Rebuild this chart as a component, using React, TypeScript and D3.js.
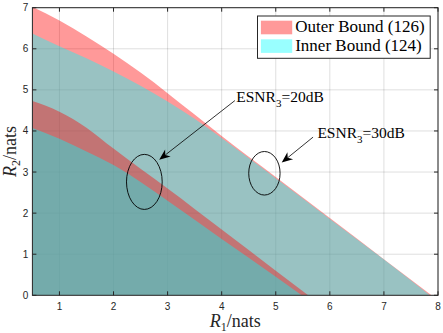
import React from 'react';
import * as d3 from 'd3';

// R1 / R2 region boundaries (nats)
const r1Outer30 = [0.5, 1, 1.5, 2, 2.5, 3, 3.5, 4, 5, 6, 7, 7.88];
const r2Outer30 = [7.02, 6.69, 6.3, 5.88, 5.42, 4.92, 4.4, 3.88, 2.88, 1.88, 0.88, 0];
const r1Inner30 = [0.5, 1, 1.5, 2, 2.5, 3, 3.5, 4, 5, 6, 7, 7.85];
const r2Inner30 = [6.37, 6.06, 5.77, 5.45, 5.1, 4.72, 4.3, 3.83, 2.85, 1.86, 0.87, 0];
const r1Outer20 = [0.5, 1, 1.5, 2, 2.5, 3, 4, 5, 5.6];
const r2Outer20 = [4.73, 4.47, 4.08, 3.57, 3.08, 2.6, 1.6, 0.6, 0];
const r1Inner20 = [0.5, 1, 1.5, 2, 2.5, 3, 4, 5, 5.48];
const r2Inner20 = [4.07, 3.81, 3.5, 3.17, 2.76, 2.3, 1.37, 0.45, 0];

const xTicks = [1, 2, 3, 4, 5, 6, 7, 8];
const yTicks = [0, 1, 2, 3, 4, 5, 6, 7];
const legendLabels = ['Outer Bound (126)', 'Inner Bound (124)'];

// annotations: ellipse centre / radii and arrow (data units)
const ellipse20 = { cx: 2.57, cy: 2.76, rx: 0.33, ry: 0.67 };
const ellipse30 = { cx: 4.79, cy: 2.97, rx: 0.29, ry: 0.53 };
const arrow20 = { x0: 4.245, y0: 4.74, x1: 2.845, y1: 3.3 };
const arrow30 = { x0: 5.69, y0: 3.85, x1: 5.11, y1: 3.23 };
const label20 = { x: 4.27, y: 4.7, sub: '3', rest: '=20dB' };
const label30 = { x: 5.77, y: 3.83, sub: '3', rest: '=30dB' };

const W = 443;
const H = 333;
const margin = { top: 7.7, right: 5, bottom: 37.7, left: 32.4 };
const serif = '"Liberation Serif", "Times New Roman", serif';
const sans = '"Liberation Sans", Arial, sans-serif';
const axisColor = '#262626';

const x = d3.scaleLinear().domain([0.5, 8]).range([margin.left, W - margin.right]);
const y = d3.scaleLinear().domain([0, 7]).range([H - margin.bottom, margin.top]);

const area = d3
  .area<[number, number]>()
  .x(d => x(d[0]))
  .y0(() => y(0))
  .y1(d => y(d[1]))
  .curve(d3.curveMonotoneX);

const zip = (a: number[], b: number[]) => a.map((v, i) => [v, b[i]] as [number, number]);

function Arrow({ a }: { a: { x0: number; y0: number; x1: number; y1: number } }) {
  const sx = x(a.x0), sy = y(a.y0), tx = x(a.x1), ty = y(a.y1);
  const ang = Math.atan2(ty - sy, tx - sx);
  const len = 11, half = 4.5;
  const bx = tx - len * Math.cos(ang), by = ty - len * Math.sin(ang);
  const nx = -Math.sin(ang), ny = Math.cos(ang);
  const notchX = tx - len * 0.7 * Math.cos(ang), notchY = ty - len * 0.7 * Math.sin(ang);
  const head = `M${tx},${ty}L${bx + nx * half},${by + ny * half}L${notchX},${notchY}L${bx - nx * half},${by - ny * half}Z`;
  return (
    <g>
      <line x1={sx} y1={sy} x2={notchX} y2={notchY} stroke="#000" strokeWidth={0.8} />
      <path d={head} fill="#000" />
    </g>
  );
}

function Label({ l }: { l: { x: number; y: number; sub: string; rest: string } }) {
  return (
    <text x={x(l.x)} y={y(l.y)} fontFamily={serif} fontSize={15.5} fill="#000">
      ESNR
      <tspan fontSize={11} dy={5}>{l.sub}</tspan>
      <tspan dy={-5}>{l.rest}</tspan>
    </text>
  );
}

export default function App() {
  const [x0, x1] = x.range();
  const [yb, yt] = y.range();
  const legW = 172.7, legH = 42.3;
  const legX = x1 - 7.8 - legW;
  const legY = yt + 8.3;

  return (
    <svg width={W} height={H} style={{ position: 'absolute', left: 0, top: 0, background: '#fff' }}>
      <defs>
        <clipPath id="plot">
          <rect x={x0} y={yt} width={x1 - x0} height={yb - yt} />
        </clipPath>
      </defs>

      {/* grid */}
      <g stroke="#000" strokeOpacity={0.13} strokeWidth={1}>
        {xTicks.map(t => (
          <line key={'gx' + t} x1={x(t)} x2={x(t)} y1={yt} y2={yb} />
        ))}
        {yTicks.map(t => (
          <line key={'gy' + t} x1={x0} x2={x1} y1={y(t)} y2={y(t)} />
        ))}
      </g>

      {/* regions */}
      <g clipPath="url(#plot)">
        <path d={area(zip(r1Outer30, r2Outer30)) || ''} fill="#ff0000" fillOpacity={0.4} />
        <path d={area(zip(r1Inner30, r2Inner30)) || ''} fill="#00ffff" fillOpacity={0.4} />
        <path d={area(zip(r1Outer20, r2Outer20)) || ''} fill="#ff0000" fillOpacity={0.4} />
        <path d={area(zip(r1Inner20, r2Inner20)) || ''} fill="#00ffff" fillOpacity={0.4} />
      </g>

      {/* axes box + ticks */}
      <rect x={x0} y={yt} width={x1 - x0} height={yb - yt} fill="none" stroke={axisColor} strokeWidth={1} />
      <g stroke={axisColor} strokeWidth={1}>
        {xTicks.map(t => (
          <g key={'tx' + t}>
            <line x1={x(t)} x2={x(t)} y1={yb} y2={yb - 4} />
            <line x1={x(t)} x2={x(t)} y1={yt} y2={yt + 4} />
          </g>
        ))}
        {yTicks.map(t => (
          <g key={'ty' + t}>
            <line x1={x0} x2={x0 + 4} y1={y(t)} y2={y(t)} />
            <line x1={x1} x2={x1 - 4} y1={y(t)} y2={y(t)} />
          </g>
        ))}
      </g>
      <g fontFamily={sans} fontSize={10} fill={axisColor}>
        {xTicks.map(t => (
          <text key={'lx' + t} x={x(t)} y={yb + 15} textAnchor="middle">{t}</text>
        ))}
        {yTicks.map(t => (
          <text key={'ly' + t} x={x0 - 4} y={y(t) + 3.5} textAnchor="end">{t}</text>
        ))}
      </g>

      {/* axis labels */}
      <text x={(x0 + x1) / 2} y={H - 6} textAnchor="middle" fontFamily={serif} fontSize={18} fill={axisColor}>
        <tspan fontStyle="italic">R</tspan>
        <tspan fontSize={12} dy={4}>1</tspan>
        <tspan dy={-4}>/nats</tspan>
      </text>
      <text
        transform={`translate(16,${(yt + yb) / 2}) rotate(-90)`}
        textAnchor="middle"
        fontFamily={serif}
        fontSize={18}
        fill={axisColor}
      >
        <tspan fontStyle="italic">R</tspan>
        <tspan fontSize={12} dy={4}>2</tspan>
        <tspan dy={-4}>/nats</tspan>
      </text>

      {/* annotations */}
      <ellipse cx={x(ellipse20.cx)} cy={y(ellipse20.cy)} rx={x(ellipse20.cx + ellipse20.rx) - x(ellipse20.cx)} ry={y(ellipse20.cy) - y(ellipse20.cy + ellipse20.ry)} fill="none" stroke="#000" strokeWidth={0.9} />
      <ellipse cx={x(ellipse30.cx)} cy={y(ellipse30.cy)} rx={x(ellipse30.cx + ellipse30.rx) - x(ellipse30.cx)} ry={y(ellipse30.cy) - y(ellipse30.cy + ellipse30.ry)} fill="none" stroke="#000" strokeWidth={0.9} />
      <Arrow a={arrow20} />
      <Arrow a={arrow30} />
      <Label l={label20} />
      <Label l={label30} />

      {/* legend */}
      <rect x={legX} y={legY} width={legW} height={legH} fill="#fff" stroke={axisColor} strokeWidth={1} />
      {legendLabels.map((lab, i) => (
        <g key={lab}>
          <rect x={legX + 3.4} y={legY + 4.7 + i * 18.6} width={31.3} height={13.6} fill={i === 0 ? '#ff0000' : '#00ffff'} fillOpacity={0.4} />
          <text x={legX + 37.7} y={legY + 16 + i * 19} fontFamily={serif} fontSize={17} fill="#000">{lab}</text>
        </g>
      ))}
    </svg>
  );
}
